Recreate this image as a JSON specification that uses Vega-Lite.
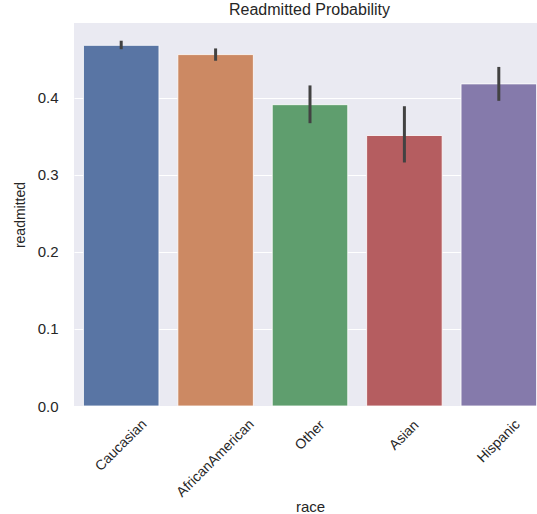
{
  "$schema": "https://vega.github.io/schema/vega-lite/v6.json",
  "autosize": {"type": "none"},
  "padding": {"left": 74, "top": 23, "right": 0, "bottom": 108},
  "width": 463,
  "height": 383,
  "background": "white",
  "config": {
    "font": "Liberation Sans",
    "view": {"fill": "#EAEAF2", "stroke": null},
    "axis": {
      "domain": false,
      "ticks": false,
      "labelColor": "#262626",
      "titleColor": "#262626",
      "titleFontWeight": "normal",
      "gridColor": "white",
      "gridWidth": 1.2
    }
  },
  "title": {
    "text": "Readmitted Probability",
    "fontSize": 16,
    "fontWeight": "normal",
    "color": "#262626",
    "anchor": "middle",
    "dx": 4,
    "offset": 5
  },
  "data": {
    "values": [
      {"race": "Caucasian", "readmitted": 0.468, "lo": 0.463, "hi": 0.474},
      {"race": "AfricanAmerican", "readmitted": 0.456, "lo": 0.448, "hi": 0.464},
      {"race": "Other", "readmitted": 0.391, "lo": 0.367, "hi": 0.416},
      {"race": "Asian", "readmitted": 0.351, "lo": 0.316, "hi": 0.389},
      {"race": "Hispanic", "readmitted": 0.418, "lo": 0.396, "hi": 0.440}
    ]
  },
  "encoding": {
    "x": {
      "field": "race",
      "type": "nominal",
      "sort": null,
      "scale": {"range": [0, 472], "paddingInner": 0.2, "paddingOuter": 0.1},
      "axis": {
        "grid": false,
        "labelAngle": -45,
        "labelAlign": "center",
        "labelBaseline": "middle",
        "labelFontSize": 14,
        "labelPadding": {
          "condition": [
            {"test": "datum.value === 'Caucasian'", "value": 39},
            {"test": "datum.value === 'AfricanAmerican'", "value": 52},
            {"test": "datum.value === 'Hispanic'", "value": 35}
          ],
          "value": 29
        },
        "title": "race",
        "titleFontSize": 15,
        "titleX": 236,
        "titleY": 100,
        "titleBaseline": "middle"
      }
    }
  },
  "layer": [
    {
      "mark": {"type": "bar", "stroke": "white", "strokeWidth": 1, "strokeOpacity": 0.8},
      "encoding": {
        "y": {
          "field": "readmitted",
          "type": "quantitative",
          "scale": {"domain": [0, 0.497], "nice": false, "zero": true},
          "axis": {
            "values": [0, 0.1, 0.2, 0.3, 0.4],
            "format": ".1f",
            "labelFontSize": 15,
            "labelPadding": 16,
            "title": "readmitted",
            "titleFontSize": 14,
            "titleX": -54,
            "titleY": 191.5,
            "titleBaseline": "middle",
            "titleAlign": "center"
          }
        },
        "color": {
          "field": "race",
          "type": "nominal",
          "sort": null,
          "scale": {"range": ["#5975a4", "#cc8963", "#5f9e6e", "#b55d60", "#857aab"]},
          "legend": null
        }
      }
    },
    {
      "mark": {"type": "rule", "color": "#424242", "strokeWidth": 3},
      "encoding": {
        "y": {"field": "lo", "type": "quantitative"},
        "y2": {"field": "hi"}
      }
    }
  ]
}
